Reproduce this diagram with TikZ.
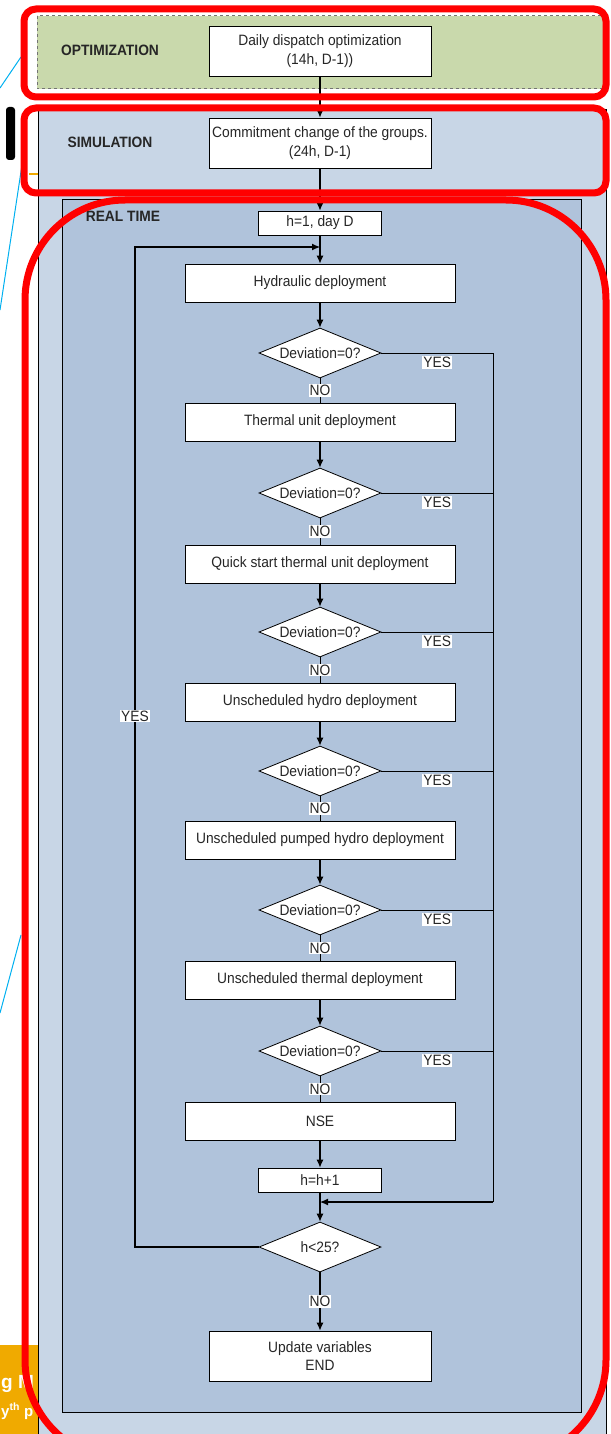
\documentclass[tikz,border=0pt]{standalone}
\usepackage{fontspec}
\setmainfont{Liberation Sans}
\newfontfamily\chartfont{Liberation Sans}[FakeStretch=0.92]
\usetikzlibrary{arrows.meta}
\usetikzlibrary{shapes.geometric}
\usetikzlibrary{shadows}
\usetikzlibrary{positioning}
\definecolor{optgreen}{RGB}{201,217,172}
\definecolor{simblue}{RGB}{200,214,230}
\definecolor{rtblue}{RGB}{176,195,219}
\definecolor{slideorange}{RGB}{240,170,0}
\definecolor{linkcyan}{RGB}{0,176,240}
\tikzset{box/.style = {draw, fill=white, line width=0.8, inner sep=2, align=center,
                       font=\chartfont\fontsize{15}{18.5}\selectfont, text=black!85,
                       drop shadow={shadow xshift=0.6pt, shadow yshift=-1.4pt,
                                    fill=black!70, opacity=0.7}}}
\tikzset{wide/.style = {minimum width=270, minimum height=38}}
\tikzset{mid/.style = {minimum width=222, minimum height=50}}
\tikzset{small/.style = {minimum width=123, minimum height=24}}
\tikzset{decision/.style = {draw, fill=white, diamond, aspect=2.44, inner sep=0,
                            minimum width=122, minimum height=50, line width=0.8,
                            font=\chartfont\fontsize{15}{18}\selectfont, text=black!85}}
\tikzset{lbl/.style = {fill=white, inner sep=1, font=\chartfont\fontsize{15}{18}\selectfont,
                       text=black!85}}
\tikzset{title/.style = {font=\chartfont\bfseries\fontsize{15}{17}\selectfont, text=black!85}}
\tikzset{flow/.style = {line width=1.1, -{Latex[length=8pt, width=7pt]}}}
\tikzset{wire/.style = {line width=0.9}}
\tikzset{frame/.style = {draw=red, line width=7}}

\begin{document}
\begin{tikzpicture}[x=1pt, y=-1pt]
      \useasboundingbox (0,0) rectangle (610,1434);
      \clip (0,0) rectangle (610,1434);
      % slide leftovers
      \draw [linkcyan, line width=1] (0,88) -- (21,57);
      \draw [linkcyan, line width=1] (0,310) -- (22,165);
      \draw [linkcyan, line width=1] (0,1013) -- (21,935);
      \fill [black, rounded corners=3] (6,107) rectangle (15,160);
      \draw [slideorange, line width=1.2] (29,174) -- (38,174);
      \fill [slideorange] (0,1345) rectangle (38,1434);
      \node [white, font=\bfseries\fontsize{19}{19}\selectfont, anchor=base west, inner sep=0]
            (slidea) at (1,1388) {g M};
      \node [white, font=\bfseries\fontsize{15}{15}\selectfont, anchor=base west, inner sep=0]
            (slideb) at (1,1416) {y\textsuperscript{th} p};
      % stages
      \draw [dashed, draw=black!55, fill=optgreen, line width=1] (37,16) rectangle (606,89);
      \draw [fill=simblue, line width=0.8] (38,109) rectangle (606,1450);
      \draw [fill=rtblue, line width=0.8] (62,199) rectangle (581,1412);
      \node [title] (optname) at (110,50) {OPTIMIZATION};
      \node [title] (simname) at (110,142) {SIMULATION};
      \node [title] (rtname) at (123,216) {REAL TIME};
      % steps
      \node [box, mid] (opt) at (320,51) {Daily dispatch optimization\\(14h, D-1))};
      \node [box, mid] (sim) at (320,143) {Commitment change of the groups.\\(24h, D-1)};
      \node [box, small] (init) at (320,223) {h=1, day D};
      \node [box, wide] (hyd) at (320,283) {Hydraulic deployment};
      \node [decision] (dev1) at (320,353) {Deviation=0?};
      \node [box, wide] (therm) at (320,422) {Thermal unit deployment};
      \node [decision] (dev2) at (320,493) {Deviation=0?};
      \node [box, wide] (quick) at (320,564) {Quick start thermal unit deployment};
      \node [decision] (dev3) at (320,632) {Deviation=0?};
      \node [box, wide] (uhyd) at (320,702) {Unscheduled hydro deployment};
      \node [decision] (dev4) at (320,771) {Deviation=0?};
      \node [box, wide] (upump) at (320,840) {Unscheduled pumped hydro deployment};
      \node [decision] (dev5) at (320,910) {Deviation=0?};
      \node [box, wide] (utherm) at (320,980) {Unscheduled thermal deployment};
      \node [decision] (dev6) at (320,1051) {Deviation=0?};
      \node [box, wide] (nse) at (320,1121) {NSE};
      \node [box, small] (next) at (320,1180) {h=h+1};
      \node [decision] (hour) at (320,1247) {h<25?};
      \node [box, mid] (upd) at (320,1356) {Update variables\\END};
      \coordinate (bustop) at (493,353);
      \coordinate (busend) at (493,1202);
      \coordinate (backlow) at (135,1247);
      \coordinate (backtop) at (135,247);
      % main flow
      \draw [flow] (opt) -- (sim);
      \draw [flow] (sim) -- (init);
      \draw [flow] (init) -- (hyd);
      \draw [flow] (hyd) -- (dev1);
      \draw [wire] (dev1) -- node [lbl] {NO} (therm);
      \draw [flow] (therm) -- (dev2);
      \draw [wire] (dev2) -- node [lbl] {NO} (quick);
      \draw [flow] (quick) -- (dev3);
      \draw [wire] (dev3) -- node [lbl] {NO} (uhyd);
      \draw [flow] (uhyd) -- (dev4);
      \draw [wire] (dev4) -- node [lbl] {NO} (upump);
      \draw [flow] (upump) -- (dev5);
      \draw [wire] (dev5) -- node [lbl] {NO} (utherm);
      \draw [flow] (utherm) -- (dev6);
      \draw [wire] (dev6) -- node [lbl] {NO} (nse);
      \draw [flow] (nse) -- (next);
      \draw [flow] (next) -- (hour);
      \draw [flow] (hour) -- node [lbl] {NO} (upd);
      % yes branches
      \draw [wire] (dev1.east) -- node [lbl, below=3pt] {YES} (bustop);
      \draw [wire] (dev2.east) -- node [lbl, below=3pt] {YES} (dev2.east -| bustop);
      \draw [wire] (dev3.east) -- node [lbl, below=3pt] {YES} (dev3.east -| bustop);
      \draw [wire] (dev4.east) -- node [lbl, below=3pt] {YES} (dev4.east -| bustop);
      \draw [wire] (dev5.east) -- node [lbl, below=3pt] {YES} (dev5.east -| bustop);
      \draw [wire] (dev6.east) -- node [lbl, below=3pt] {YES} (dev6.east -| bustop);
      \draw [wire] (bustop) -- (busend);
      \draw [flow] (busend) -- (busend -| next.south);
      \draw [flow] (hour.west) -- (backlow) -- node [lbl, pos=0.531] {YES} (backtop)
            -- (backtop -| hyd.north);
      % highlight frames
      \draw [frame, rounded corners=12] (24,9) rectangle (606,97);
      \draw [frame, rounded corners=12] (24,108) rectangle (606,193);
      \draw [frame, rounded corners=100] (25,200) rectangle (606,1460);
    \end{tikzpicture}
\end{document}
